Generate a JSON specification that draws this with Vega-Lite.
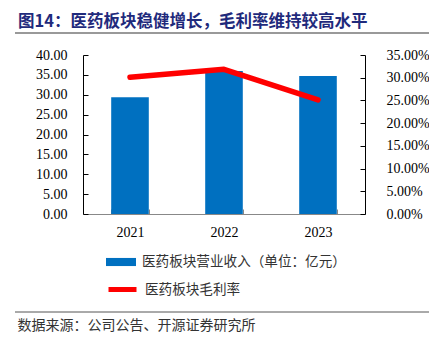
{
  "$schema": "https://vega.github.io/schema/vega-lite/v6.json",
  "width": 282,
  "height": 159,
  "autosize": {"type": "none"},
  "padding": {"left": 83, "top": 55, "right": 64, "bottom": 129},
  "background": "white",
  "title": {
    "text": "图14：医药板块稳健增长，毛利率维持较高水平",
    "anchor": "start",
    "frame": "group",
    "dx": -65,
    "offset": 2,
    "font": "Noto Sans CJK SC",
    "fontSize": 16.5,
    "fontWeight": "bold",
    "color": "#1F2A7C"
  },
  "data": {
    "values": [
      {"year": "2021", "revenue": 29.4, "margin": 0.301},
      {"year": "2022", "revenue": 36.0, "margin": 0.3185},
      {"year": "2023", "revenue": 34.7, "margin": 0.251}
    ]
  },
  "config": {
    "view": {"stroke": null},
    "axis": {"labelFont": "Liberation Serif", "labelFontSize": 14, "labelColor": "#000", "grid": false},
    "legend": {"labelFont": "Noto Sans CJK SC", "labelFontSize": 13.6, "labelColor": "#333", "padding": 0, "labelLimit": 400}
  },
  "encoding": {
    "x": {
      "field": "year",
      "type": "nominal",
      "scale": {"paddingInner": 0.6, "paddingOuter": 0.3},
      "axis": {
        "labelAngle": 0,
        "domainColor": "#888",
        "tickColor": "#888",
        "tickBand": "extent",
        "tickSize": -5,
        "labelPadding": 16,
        "title": "数据来源：公司公告、开源证券研究所",
        "titleFont": "Noto Sans CJK SC",
        "titleFontSize": 14,
        "titleFontWeight": "normal",
        "titleColor": "#333",
        "titleAnchor": "start",
        "titleAlign": "left",
        "titleBaseline": "middle",
        "titleX": -66,
        "titleY": 111
      }
    }
  },
  "layer": [
    {
      "mark": {"type": "bar"},
      "encoding": {
        "y": {
          "field": "revenue",
          "type": "quantitative",
          "scale": {"domain": [0, 40]},
          "axis": {
            "title": null,
            "values": [0, 5, 10, 15, 20, 25, 30, 35, 40],
            "format": ".2f",
            "domainColor": "#000",
            "tickColor": "#000",
            "tickSize": -5,
            "labelPadding": 21
          }
        },
        "fill": {
          "datum": "医药板块营业收入（单位：亿元）",
          "scale": {"range": ["#0070C0"]},
          "legend": {
            "title": null,
            "orient": "none",
            "legendX": 23,
            "legendY": 192,
            "symbolType": "M-1,-0.27H1V0.27H-1Z",
            "symbolSize": 900,
            "symbolStrokeWidth": 0,
            "labelOffset": 6
          }
        }
      }
    },
    {
      "mark": {"type": "line", "strokeWidth": 5.5, "strokeCap": "round", "strokeJoin": "round"},
      "encoding": {
        "y": {
          "field": "margin",
          "type": "quantitative",
          "scale": {"domain": [0, 0.35]},
          "axis": {
            "title": null,
            "orient": "right",
            "values": [0, 0.05, 0.1, 0.15, 0.2, 0.25, 0.3, 0.35],
            "format": ".2%",
            "domainColor": "#000",
            "tickColor": "#000",
            "tickSize": -5,
            "labelPadding": 26
          }
        },
        "stroke": {
          "datum": "医药板块毛利率",
          "scale": {"range": ["#FF0000"]},
          "legend": {
            "title": null,
            "orient": "none",
            "legendX": 23,
            "legendY": 218,
            "symbolType": "stroke",
            "symbolSize": 784,
            "symbolStrokeWidth": 5,
            "labelOffset": 6
          }
        }
      }
    },
    {
      "data": {"values": [{}]},
      "mark": {"type": "rule", "color": "#999", "strokeWidth": 2},
      "encoding": {"x": {"value": -68}, "x2": {"value": 346}, "y": {"value": -22}}
    },
    {
      "data": {"values": [{}]},
      "mark": {"type": "rule", "color": "#555", "strokeWidth": 1},
      "encoding": {"x": {"value": -68}, "x2": {"value": 346}, "y": {"value": 257}}
    }
  ],
  "resolve": {"scale": {"y": "independent"}}
}
